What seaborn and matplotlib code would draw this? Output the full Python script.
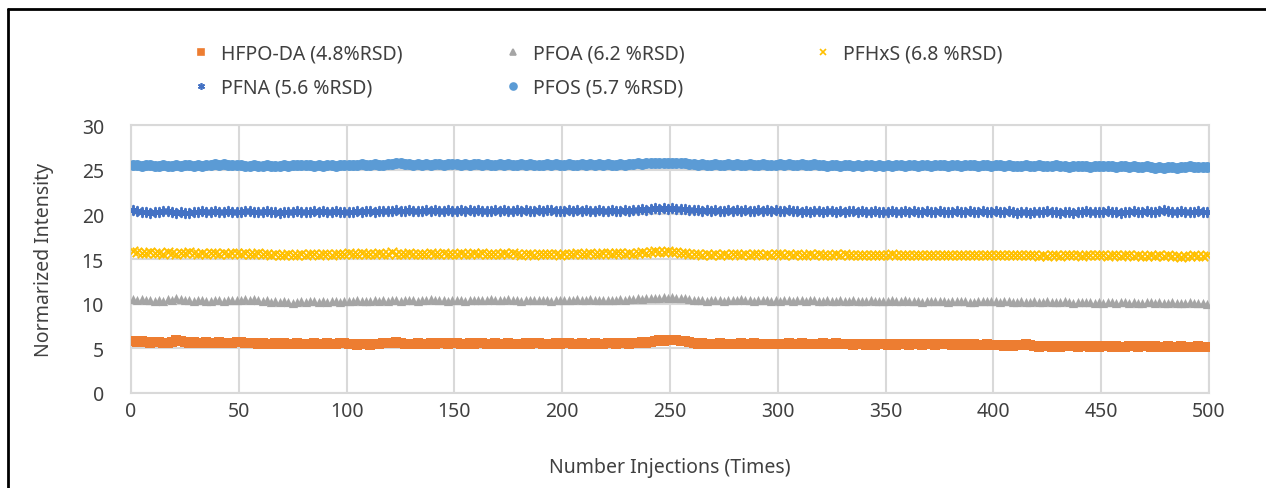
import numpy as np
import pandas as pd
import seaborn as sns
import matplotlib.pyplot as plt
from matplotlib.lines import Line2D

# Injection number of each plotted point (every 2nd injection)
injections = np.arange(1, 501, 2)

# Normalized intensity, one value per plotted injection
# (each row of 25 covers 50 injections)
hfpo_da = [
    5.8, 5.7, 5.8, 5.7, 5.6, 5.7, 5.7, 5.6, 5.6, 5.7, 5.9, 5.8, 5.7, 5.6, 5.7, 5.6, 5.6, 5.7, 5.6, 5.6, 5.7, 5.6, 5.6, 5.6, 5.7,
    5.7, 5.6, 5.6, 5.6, 5.5, 5.6, 5.5, 5.5, 5.6, 5.5, 5.6, 5.5, 5.5, 5.6, 5.5, 5.5, 5.5, 5.6, 5.5, 5.5, 5.6, 5.5, 5.5, 5.6, 5.6,
    5.5, 5.5, 5.4, 5.5, 5.5, 5.4, 5.5, 5.5, 5.6, 5.6, 5.6, 5.7, 5.6, 5.5, 5.5, 5.5, 5.6, 5.5, 5.5, 5.6, 5.5, 5.6, 5.6, 5.5, 5.6,
    5.6, 5.5, 5.5, 5.6, 5.5, 5.6, 5.6, 5.5, 5.5, 5.6, 5.5, 5.5, 5.6, 5.5, 5.5, 5.5, 5.6, 5.5, 5.6, 5.6, 5.5, 5.5, 5.5, 5.6, 5.5,
    5.6, 5.6, 5.5, 5.5, 5.6, 5.5, 5.5, 5.6, 5.5, 5.5, 5.6, 5.6, 5.5, 5.6, 5.6, 5.5, 5.6, 5.6, 5.7, 5.6, 5.7, 5.8, 5.9, 5.8, 5.9,
    5.9, 5.9, 5.8, 5.8, 5.7, 5.6, 5.5, 5.6, 5.5, 5.5, 5.5, 5.6, 5.5, 5.5, 5.5, 5.5, 5.6, 5.5, 5.5, 5.6, 5.5, 5.5, 5.5, 5.5, 5.5,
    5.5, 5.5, 5.6, 5.5, 5.5, 5.6, 5.5, 5.5, 5.5, 5.5, 5.6, 5.5, 5.5, 5.6, 5.5, 5.5, 5.5, 5.4, 5.5, 5.5, 5.4, 5.5, 5.4, 5.5, 5.5,
    5.4, 5.5, 5.4, 5.5, 5.5, 5.4, 5.5, 5.5, 5.4, 5.5, 5.5, 5.4, 5.5, 5.5, 5.5, 5.4, 5.5, 5.4, 5.5, 5.4, 5.5, 5.4, 5.4, 5.5, 5.4,
    5.4, 5.4, 5.3, 5.4, 5.3, 5.4, 5.4, 5.5, 5.4, 5.3, 5.2, 5.3, 5.3, 5.2, 5.3, 5.2, 5.3, 5.3, 5.3, 5.2, 5.3, 5.3, 5.2, 5.3, 5.2,
    5.3, 5.3, 5.2, 5.3, 5.2, 5.2, 5.3, 5.3, 5.2, 5.3, 5.3, 5.2, 5.3, 5.2, 5.2, 5.3, 5.2, 5.2, 5.3, 5.2, 5.2, 5.2, 5.3, 5.2, 5.2,
]
pfoa = [
    10.5, 10.4, 10.5, 10.4, 10.4, 10.3, 10.4, 10.3, 10.5, 10.4, 10.6, 10.5, 10.4, 10.4, 10.3, 10.4, 10.4, 10.3, 10.3, 10.4, 10.4, 10.3, 10.4, 10.4, 10.4,
    10.4, 10.5, 10.4, 10.5, 10.4, 10.3, 10.4, 10.2, 10.3, 10.2, 10.3, 10.2, 10.1, 10.2, 10.3, 10.2, 10.3, 10.3, 10.2, 10.3, 10.2, 10.3, 10.3, 10.2, 10.3,
    10.3, 10.3, 10.4, 10.3, 10.3, 10.3, 10.4, 10.3, 10.4, 10.3, 10.4, 10.4, 10.3, 10.4, 10.4, 10.4, 10.3, 10.4, 10.4, 10.5, 10.4, 10.4, 10.4, 10.3, 10.4,
    10.4, 10.4, 10.3, 10.4, 10.4, 10.4, 10.4, 10.4, 10.5, 10.4, 10.4, 10.4, 10.5, 10.4, 10.4, 10.3, 10.4, 10.4, 10.4, 10.4, 10.4, 10.4, 10.3, 10.4, 10.4,
    10.4, 10.4, 10.4, 10.5, 10.4, 10.4, 10.5, 10.4, 10.4, 10.4, 10.4, 10.4, 10.4, 10.5, 10.4, 10.5, 10.5, 10.6, 10.5, 10.6, 10.6, 10.6, 10.6, 10.7, 10.6,
    10.7, 10.6, 10.6, 10.6, 10.5, 10.4, 10.4, 10.4, 10.3, 10.4, 10.4, 10.4, 10.3, 10.4, 10.4, 10.4, 10.5, 10.4, 10.4, 10.3, 10.4, 10.4, 10.4, 10.3, 10.4,
    10.3, 10.4, 10.4, 10.3, 10.4, 10.4, 10.3, 10.4, 10.4, 10.3, 10.3, 10.4, 10.3, 10.3, 10.4, 10.3, 10.3, 10.4, 10.3, 10.3, 10.3, 10.4, 10.3, 10.3, 10.3,
    10.3, 10.4, 10.3, 10.3, 10.4, 10.3, 10.3, 10.3, 10.2, 10.3, 10.3, 10.3, 10.3, 10.3, 10.2, 10.3, 10.3, 10.3, 10.3, 10.2, 10.2, 10.3, 10.3, 10.3, 10.3,
    10.3, 10.2, 10.3, 10.3, 10.2, 10.2, 10.3, 10.2, 10.2, 10.3, 10.2, 10.2, 10.3, 10.2, 10.2, 10.2, 10.3, 10.2, 10.1, 10.2, 10.2, 10.2, 10.2, 10.1, 10.2,
    10.1, 10.2, 10.2, 10.1, 10.2, 10.2, 10.1, 10.2, 10.1, 10.1, 10.2, 10.2, 10.1, 10.2, 10.1, 10.1, 10.2, 10.1, 10.1, 10.1, 10.2, 10.1, 10.1, 10.1, 10.0,
]
pfhxs = [
    15.9, 15.8, 15.7, 15.7, 15.8, 15.7, 15.7, 15.6, 15.8, 15.7, 15.6, 15.7, 15.7, 15.8, 15.7, 15.6, 15.7, 15.6, 15.7, 15.7, 15.6, 15.7, 15.6, 15.7, 15.7,
    15.6, 15.7, 15.6, 15.6, 15.7, 15.6, 15.6, 15.5, 15.6, 15.5, 15.5, 15.6, 15.5, 15.5, 15.6, 15.5, 15.6, 15.6, 15.5, 15.6, 15.6, 15.5, 15.6, 15.6, 15.6,
    15.7, 15.6, 15.6, 15.7, 15.6, 15.6, 15.6, 15.7, 15.6, 15.6, 15.8, 15.6, 15.6, 15.6, 15.7, 15.6, 15.6, 15.6, 15.6, 15.7, 15.6, 15.6, 15.7, 15.6, 15.6,
    15.6, 15.7, 15.6, 15.6, 15.7, 15.6, 15.7, 15.6, 15.6, 15.6, 15.6, 15.7, 15.6, 15.7, 15.6, 15.5, 15.6, 15.6, 15.5, 15.6, 15.6, 15.6, 15.6, 15.6, 15.5,
    15.6, 15.6, 15.6, 15.7, 15.6, 15.6, 15.7, 15.6, 15.6, 15.7, 15.7, 15.6, 15.7, 15.7, 15.6, 15.7, 15.6, 15.7, 15.8, 15.7, 15.8, 15.9, 15.8, 15.8, 15.9,
    15.8, 15.8, 15.7, 15.7, 15.6, 15.6, 15.6, 15.5, 15.6, 15.5, 15.6, 15.5, 15.6, 15.5, 15.6, 15.6, 15.5, 15.6, 15.5, 15.6, 15.6, 15.5, 15.6, 15.5, 15.6,
    15.6, 15.5, 15.6, 15.5, 15.6, 15.5, 15.5, 15.6, 15.5, 15.6, 15.5, 15.5, 15.5, 15.6, 15.5, 15.6, 15.5, 15.4, 15.5, 15.5, 15.5, 15.5, 15.4, 15.5, 15.5,
    15.5, 15.6, 15.5, 15.5, 15.5, 15.5, 15.4, 15.5, 15.5, 15.5, 15.5, 15.4, 15.5, 15.5, 15.4, 15.5, 15.5, 15.5, 15.4, 15.5, 15.5, 15.4, 15.5, 15.5, 15.5,
    15.5, 15.4, 15.5, 15.4, 15.5, 15.4, 15.4, 15.4, 15.5, 15.4, 15.3, 15.4, 15.3, 15.4, 15.4, 15.3, 15.4, 15.4, 15.4, 15.4, 15.3, 15.4, 15.4, 15.4, 15.4,
    15.4, 15.3, 15.4, 15.4, 15.3, 15.4, 15.4, 15.3, 15.4, 15.3, 15.3, 15.4, 15.3, 15.4, 15.3, 15.4, 15.3, 15.3, 15.2, 15.3, 15.3, 15.4, 15.3, 15.3, 15.4,
]
pfna = [
    20.5, 20.4, 20.3, 20.3, 20.2, 20.3, 20.3, 20.4, 20.4, 20.3, 20.2, 20.3, 20.1, 20.2, 20.3, 20.3, 20.4, 20.3, 20.3, 20.4, 20.3, 20.3, 20.4, 20.3, 20.3,
    20.3, 20.4, 20.4, 20.3, 20.3, 20.3, 20.4, 20.3, 20.3, 20.2, 20.3, 20.3, 20.3, 20.4, 20.3, 20.3, 20.3, 20.4, 20.3, 20.4, 20.3, 20.3, 20.4, 20.3, 20.3,
    20.3, 20.3, 20.4, 20.3, 20.4, 20.4, 20.3, 20.4, 20.4, 20.4, 20.4, 20.5, 20.4, 20.4, 20.5, 20.4, 20.4, 20.4, 20.5, 20.4, 20.5, 20.4, 20.4, 20.5, 20.4,
    20.4, 20.5, 20.4, 20.5, 20.4, 20.5, 20.4, 20.4, 20.4, 20.5, 20.4, 20.5, 20.4, 20.4, 20.5, 20.4, 20.5, 20.4, 20.4, 20.5, 20.4, 20.5, 20.5, 20.4, 20.4,
    20.4, 20.5, 20.4, 20.5, 20.4, 20.5, 20.4, 20.4, 20.5, 20.4, 20.4, 20.5, 20.4, 20.4, 20.5, 20.4, 20.5, 20.5, 20.6, 20.5, 20.6, 20.7, 20.6, 20.7, 20.6,
    20.7, 20.6, 20.6, 20.6, 20.5, 20.5, 20.5, 20.4, 20.5, 20.4, 20.5, 20.4, 20.4, 20.5, 20.4, 20.5, 20.4, 20.5, 20.4, 20.4, 20.5, 20.4, 20.5, 20.4, 20.5,
    20.4, 20.4, 20.5, 20.4, 20.4, 20.3, 20.4, 20.3, 20.4, 20.4, 20.3, 20.4, 20.4, 20.3, 20.4, 20.3, 20.4, 20.4, 20.3, 20.4, 20.3, 20.3, 20.4, 20.3, 20.3,
    20.3, 20.4, 20.3, 20.3, 20.4, 20.3, 20.4, 20.3, 20.3, 20.4, 20.3, 20.3, 20.4, 20.3, 20.3, 20.3, 20.4, 20.3, 20.3, 20.4, 20.3, 20.3, 20.4, 20.3, 20.3,
    20.4, 20.3, 20.3, 20.4, 20.3, 20.2, 20.3, 20.3, 20.2, 20.3, 20.3, 20.3, 20.4, 20.3, 20.3, 20.2, 20.3, 20.3, 20.2, 20.3, 20.3, 20.4, 20.3, 20.3, 20.3,
    20.3, 20.4, 20.3, 20.3, 20.2, 20.3, 20.3, 20.4, 20.3, 20.3, 20.4, 20.3, 20.3, 20.4, 20.5, 20.4, 20.3, 20.3, 20.4, 20.3, 20.3, 20.3, 20.4, 20.3, 20.3,
]
pfos = [
    25.5, 25.5, 25.4, 25.5, 25.5, 25.4, 25.4, 25.5, 25.4, 25.4, 25.5, 25.4, 25.5, 25.5, 25.4, 25.5, 25.4, 25.5, 25.5, 25.6, 25.5, 25.6, 25.5, 25.5, 25.5,
    25.5, 25.4, 25.4, 25.5, 25.4, 25.4, 25.5, 25.4, 25.4, 25.4, 25.5, 25.4, 25.5, 25.5, 25.5, 25.5, 25.5, 25.4, 25.5, 25.4, 25.5, 25.5, 25.4, 25.5, 25.5,
    25.5, 25.5, 25.5, 25.6, 25.5, 25.5, 25.6, 25.5, 25.5, 25.6, 25.6, 25.8, 25.7, 25.6, 25.6, 25.5, 25.6, 25.5, 25.6, 25.5, 25.6, 25.6, 25.5, 25.6, 25.6,
    25.6, 25.5, 25.6, 25.5, 25.6, 25.6, 25.5, 25.6, 25.5, 25.5, 25.6, 25.5, 25.6, 25.5, 25.5, 25.6, 25.5, 25.6, 25.5, 25.5, 25.5, 25.6, 25.5, 25.6, 25.5,
    25.5, 25.6, 25.5, 25.5, 25.6, 25.5, 25.6, 25.5, 25.6, 25.5, 25.6, 25.5, 25.5, 25.6, 25.5, 25.6, 25.6, 25.7, 25.6, 25.7, 25.8, 25.7, 25.7, 25.8, 25.7,
    25.8, 25.7, 25.8, 25.7, 25.6, 25.6, 25.5, 25.6, 25.5, 25.5, 25.6, 25.5, 25.5, 25.6, 25.5, 25.6, 25.5, 25.5, 25.6, 25.5, 25.5, 25.6, 25.5, 25.5, 25.5,
    25.6, 25.5, 25.6, 25.5, 25.5, 25.6, 25.5, 25.5, 25.6, 25.5, 25.5, 25.4, 25.5, 25.5, 25.4, 25.5, 25.5, 25.4, 25.5, 25.4, 25.5, 25.5, 25.4, 25.5, 25.4,
    25.5, 25.4, 25.5, 25.5, 25.4, 25.5, 25.5, 25.4, 25.5, 25.5, 25.4, 25.5, 25.5, 25.5, 25.4, 25.5, 25.5, 25.4, 25.5, 25.5, 25.5, 25.4, 25.5, 25.5, 25.4,
    25.5, 25.5, 25.4, 25.5, 25.4, 25.4, 25.4, 25.5, 25.4, 25.4, 25.5, 25.4, 25.4, 25.4, 25.5, 25.4, 25.4, 25.3, 25.4, 25.4, 25.4, 25.4, 25.3, 25.4, 25.4,
    25.4, 25.4, 25.4, 25.3, 25.4, 25.4, 25.3, 25.4, 25.3, 25.3, 25.4, 25.3, 25.2, 25.3, 25.2, 25.3, 25.3, 25.2, 25.3, 25.3, 25.4, 25.3, 25.3, 25.3, 25.3,
]

labels = ["HFPO-DA (4.8%RSD)", "PFOA (6.2 %RSD)", "PFHxS (6.8 %RSD)",
          "PFNA (5.6 %RSD)", "PFOS (5.7 %RSD)"]
colors = ["#ED7D31", "#A5A5A5", "#FFC000", "#4472C4", "#5B9BD5"]
markers = ["s", "^", "x", (6, 2, 0), "o"]
sizes = [58, 44, 46, 46, 62]
series = [hfpo_da, pfoa, pfhxs, pfna, pfos]

sns.set_style("white")
plt.rcParams["font.family"] = ["Noto Sans", "DejaVu Sans"]
text_color = "#404040"
fs = 14

fig = plt.figure(figsize=(12.66, 4.89), dpi=100)
ax = fig.add_axes([0.1035, 0.1943, 0.8515, 0.548])

handles = {}
for vals, lab, col, mk, sz in zip(series, labels, colors, markers, sizes):
    filled = mk in ("s", "^", "o")
    sns.scatterplot(x=injections, y=vals, ax=ax, marker=mk, s=sz,
                    color=col, edgecolor=col if filled else "face",
                    linewidth=0 if filled else 1.4, zorder=3)
    handles[lab] = Line2D([], [], linestyle="", marker=mk, color=col,
                          markersize=5, markeredgewidth=1.2)

ax.set_xlim(0, 500)
ax.set_ylim(0, 30)
ax.set_xticks(np.arange(0, 501, 50))
ax.set_yticks(np.arange(0, 31, 5))
ax.grid(True, color="#D9D9D9", linewidth=1.5)
ax.set_axisbelow(True)
for sp in ax.spines.values():
    sp.set_color("#D9D9D9")
    sp.set_linewidth(1.5)
ax.tick_params(length=0, labelsize=fs, colors=text_color)
ax.tick_params(axis="x", pad=6)
ax.tick_params(axis="y", pad=19.5)
ax.set_xlabel("Number Injections (Times)", fontsize=fs, color=text_color, labelpad=26)
ax.set_ylabel("Normarized Intensity", fontsize=fs, color=text_color, labelpad=20)

# legend: three equal-width columns, two rows
legend_cols = [
    (["HFPO-DA (4.8%RSD)", "PFNA (5.6 %RSD)"], 0.1390),
    (["PFOA (6.2 %RSD)", "PFOS (5.7 %RSD)"], 0.3855),
    (["PFHxS (6.8 %RSD)"], 0.6305),
]
for names, x0 in legend_cols:
    fig.legend([handles[k] for k in names], names, frameon=False,
               loc="upper left", bbox_to_anchor=(x0, 0.945),
               fontsize=fs, labelcolor=text_color, handlelength=0.8,
               handletextpad=0.6, labelspacing=0.75)

# chart frame (top and left edges only are visible in the reference)
fig.add_artist(Line2D([0.0065, 0.0065], [0, 0.98], transform=fig.transFigure,
                      color="black", linewidth=2))
fig.add_artist(Line2D([0.0065, 1.0], [0.98, 0.98], transform=fig.transFigure,
                      color="black", linewidth=2))

fig.savefig("out.png", dpi=100)
